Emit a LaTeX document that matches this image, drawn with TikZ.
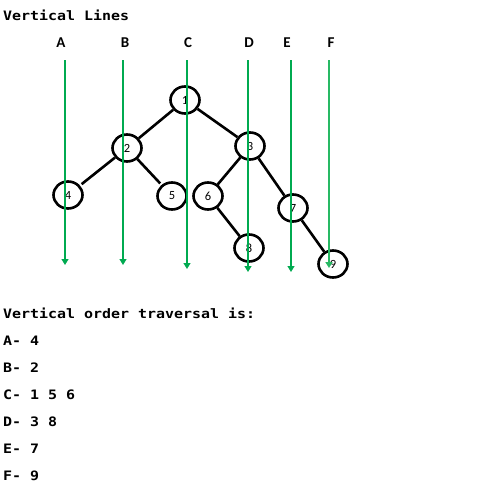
\documentclass[tikz,border=0pt]{standalone}
\usepackage{fontspec}
\usetikzlibrary{arrows.meta,shapes.geometric}
\newfontfamily\monob[FakeStretch=1.15]{DejaVu Sans Mono Bold}
\newfontfamily\lblfont{Carlito}
\definecolor{vgreen}{RGB}{0,170,80}
\definecolor{vgreenF}{RGB}{40,185,100}
\begin{document}
\begin{tikzpicture}[x=1pt,y=-1pt,
  tnode/.style={draw=black,line width=2.6pt,ellipse,inner sep=0pt,minimum width=29pt,minimum height=27pt,font=\lblfont\fontsize{12.5}{13}\selectfont},
  tedge/.style={draw=black,line width=2.6pt},
  vline/.style={draw=vgreen,line width=1.2pt,-{Triangle[length=6pt,width=7pt]}},
  colname/.style={font=\lblfont\bfseries\fontsize{15}{17}\selectfont,inner sep=0pt},
  mtext/.style={font=\monob\fontsize{13}{15}\selectfont,anchor=base west,inner sep=0pt}]
\useasboundingbox[fill=white] (0,0) rectangle (478,496);
% title
\node[mtext] (title) at (3,20) {Vertical Lines};
% column names
\node[colname] (lA) at (61,43) {A};
\node[colname] (lB) at (125,43) {B};
\node[colname] (lC) at (188,43) {C};
\node[colname] (lD) at (249,43) {D};
\node[colname] (lE) at (287,43) {E};
\node[colname] (lF) at (331,43) {F};
% tree nodes
\node[tnode] (n1) at (185,100) {1};
\node[tnode] (n2) at (127,148) {2};
\node[tnode] (n3) at (250,146) {3};
\node[tnode] (n4) at (68,195) {4};
\node[tnode] (n5) at (172,196) {5};
\node[tnode] (n6) at (208,196) {6};
\node[tnode] (n7) at (293,208) {7};
\node[tnode] (n8) at (249,248) {8};
\node[tnode] (n9) at (333,264) {9};
% tree edges
\draw[tedge] (n1) -- (n2);
\draw[tedge] (n1) -- (n3);
\draw[tedge,shorten >=2pt] (n2) -- (n4);
\draw[tedge,shorten >=2pt] (n2) -- (n5);
\draw[tedge] (n3) -- (n6);
\draw[tedge] (n3) -- (n7);
\draw[tedge] (n6) -- (n8);
\draw[tedge] (n7) -- (n9);
% vertical lines
\coordinate (tA) at (65,60); \coordinate (bA) at (65,265);
\coordinate (tB) at (123,60); \coordinate (bB) at (123,265);
\coordinate (tC) at (187,60); \coordinate (bC) at (187,269);
\coordinate (tD) at (248,60); \coordinate (bD) at (248,272);
\coordinate (tE) at (291,60); \coordinate (bE) at (291,272);
\coordinate (tF) at (329,60); \coordinate (bF) at (329,268);
\draw[vline] (tA) -- (bA);
\draw[vline] (tB) -- (bB);
\draw[vline] (tC) -- (bC);
\draw[vline] (tD) -- (bD);
\draw[vline] (tE) -- (bE);
\draw[vline,draw=vgreenF,line width=2.2pt] (tF) -- (bF);
% traversal text
\node[mtext] (head) at (3,318) {Vertical order traversal is:};
\node[mtext] (rA) at (3,345) {A- 4};
\node[mtext] (rB) at (3,372) {B- 2};
\node[mtext] (rC) at (3,399) {C- 1 5 6};
\node[mtext] (rD) at (3,426) {D- 3 8};
\node[mtext] (rE) at (3,453) {E- 7};
\node[mtext] (rF) at (3,480) {F- 9};
\end{tikzpicture}
\end{document}
